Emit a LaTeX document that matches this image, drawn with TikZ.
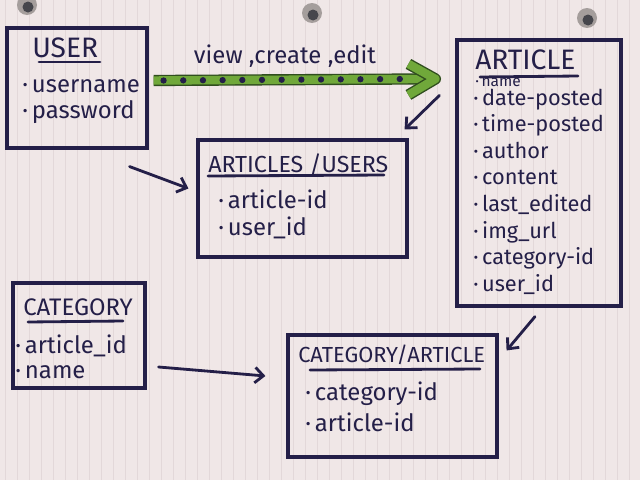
\documentclass[tikz,border=0pt]{standalone}
\usepackage{fontspec}
\setmainfont{Fira Sans}
\usetikzlibrary{arrows.meta, positioning, calc}

\definecolor{paper}{RGB}{240,231,231}
\definecolor{ruling}{RGB}{227,216,217}
\definecolor{ink}{RGB}{36,31,72}
\definecolor{marker}{RGB}{112,168,58}
\definecolor{markerdk}{RGB}{48,78,30}
\definecolor{hole}{RGB}{165,158,156}
\definecolor{holedk}{RGB}{70,70,76}

\newcommand{\fsz}[1]{\fontsize{#1}{#1}\selectfont}

\tikzset{
  tbl/.style={draw=ink, line width=2.2pt, inner sep=0pt},
  ttl/.style={anchor=north west, inner sep=0pt, text=ink},
  item/.style={anchor=base west, inner sep=0pt, text=ink},
  ul/.style={draw=ink, line width=2pt, line cap=round},
  arr/.style={draw=ink, line width=2pt, line cap=round, -{Straight Barb[length=6pt,width=11pt,line width=2pt]}},
  band/.style={draw=markerdk, line width=1pt, double=marker, double distance=6pt},
  dots/.style={draw=ink, line width=4.5pt, line cap=round, dash pattern=on 0pt off 14pt},
}

\begin{document}
\begin{tikzpicture}[x=0.025cm, y=-0.025cm]
	\useasboundingbox (0,0) rectangle (640,480);

	% Paper
	\fill[paper] (0,0) rectangle (640,480);
	\foreach \x in {5,17,...,640}
		\draw[ruling, line width=0.5pt] (\x,0) -- (\x,480);
	\foreach \x/\y in {27/5, 312/13, 587/18} {
		\fill[hole] (\x,\y) circle (10);
		\fill[holedk] (\x+1,\y+2) circle (5.5);
	}

	% Tables
	\node[tbl, minimum width=3.5cm, minimum height=3cm] (user) at (77,88) {};
	\node[tbl, minimum width=4.1cm, minimum height=6.65cm] (article) at (539,173) {};
	\node[tbl, minimum width=5.225cm, minimum height=2.925cm] (artusers) at (302.5,198.5) {};
	\node[tbl, minimum width=3.3cm, minimum height=2.625cm] (category) at (79,335.5) {};
	\node[tbl, minimum width=5.225cm, minimum height=3.05cm] (catart) at (392.5,396) {};

	% Titles
	\node[ttl, font=\fsz{20}] (user-t) at (32,38) {USER};
	\node[ttl, font=\fsz{20}] (article-t) at (475,50) {ARTICLE};
	\node[ttl, font=\fsz{16.5}] (artusers-t) at (208,153) {ARTICLES /USERS};
	\node[ttl, font=\fsz{17}] (category-t) at (23,298) {CATEGORY};
	\node[ttl, font=\fsz{15.5}] (catart-t) at (298,345) {CATEGORY/ARTICLE};

	\draw[ul] (39,62) -- (100,62);
	\draw[ul] (480,77) -- (578,76);
	\draw[ul] (208,176) -- (384,175);
	\draw[ul] (28,322) -- (123,321);
	\draw[ul] (310,370) -- (480,369);

	% Fields
	\node[item, font=\fsz{17}] (user-1) at (22,92) {·\,username};
	\node[item, font=\fsz{17}] (user-2) at (22,118) {·\,password};

	\node[item, font=\fsz{11}] (article-n) at (475,87) {·\,name};
	\foreach \f [count=\i from 0] in {date-posted, time-posted, author, content, last\_edited, img\_url, category-id, user\_id}
		\node[item, font=\fsz{15.5}] (article-\i) at (473,105+26.6*\i) {·\,\f};

	\node[item, font=\fsz{17}] (artusers-1) at (218,208) {·\,article-id};
	\node[item, font=\fsz{17}] (artusers-2) at (218,235) {·\,user\_id};

	\node[item, font=\fsz{17}] (category-1) at (15,353) {·\,article\_id};
	\node[item, font=\fsz{17}] (category-2) at (15,378) {·\,name};

	\node[item, font=\fsz{17}] (catart-1) at (305,400) {·\,category-id};
	\node[item, font=\fsz{17}] (catart-2) at (305,431) {·\,article-id};

	% Links
	\draw[arr] ([shift={(-16,57)}]article.north west) -- ([shift={(-4,-9)}]artusers.north east);
	\draw[arr] ([shift={(-19,17)}]user.south east) -- ([shift={(-8,-10)}]artusers.west);
	\draw[arr] ([shift={(12,31.5)}]category.east) -- ([shift={(-21,-20)}]catart.west);
	\draw[arr] ([shift={(-4,9)}]article.south) -- ([shift={(8,17)}]catart.north east);

	% Green link
	\coordinate (tip) at ([shift={(-20,40.5)}]article.north west);
	\draw[band] ([shift={(5,-7.5)}]user.east) -- ([shift={(-8,0)}]tip);
	\draw[band, line join=round] ([shift={(-27,-15)}]tip) -- (tip) -- ([shift={(-27,16)}]tip);
	\draw[dots] ([shift={(15,-7.5)}]user.east) -- ([shift={(-22,0)}]tip);
	\node[font=\fsz{17}, text=ink] (verbs) at (285,56) {view ,create ,edit};
\end{tikzpicture}
\end{document}
